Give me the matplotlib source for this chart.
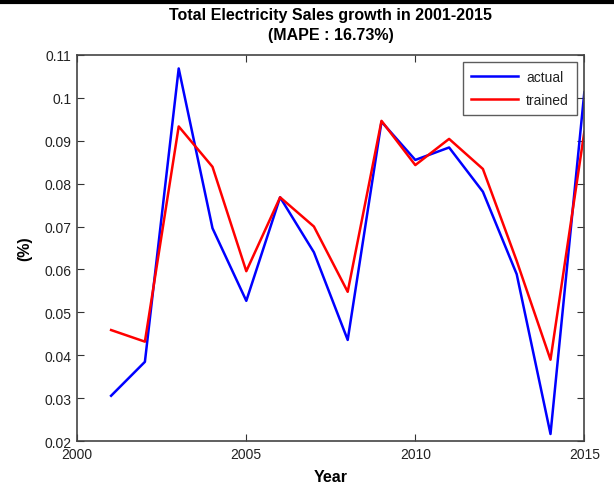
import matplotlib
matplotlib.use("Agg")
import matplotlib.pyplot as plt
from matplotlib.lines import Line2D

plt.rcParams['font.family'] = ['Liberation Sans', 'DejaVu Sans']

years = [2001, 2002, 2003, 2004, 2005, 2006, 2007, 2008, 2009, 2010, 2011, 2012, 2013, 2014, 2015]
actual = [0.0306, 0.0385, 0.1068, 0.0696, 0.0527, 0.0768, 0.0640, 0.0436, 0.0944, 0.0855, 0.0884, 0.0781, 0.0589, 0.0217, 0.1012]
trained = [0.0459, 0.0432, 0.0933, 0.0839, 0.0596, 0.0768, 0.0700, 0.0548, 0.0946, 0.0843, 0.0904, 0.0834, 0.0620, 0.0390, 0.0920]

xticks = [2000, 2005, 2010, 2015]
yticks = [0.02, 0.03, 0.04, 0.05, 0.06, 0.07, 0.08, 0.09, 0.1, 0.11]
ytick_labels = ['0.02', '0.03', '0.04', '0.05', '0.06', '0.07', '0.08', '0.09', '0.1', '0.11']

fig = plt.figure(figsize=(6.14, 4.89), dpi=100)
ax = fig.add_axes([77.3/614, 46.7/489, 507/614, 386.6/489])

ax.plot(years, actual, color='#0000ff', lw=1.8, label='actual')
ax.plot(years, trained, color='#ff0000', lw=1.8, label='trained')

ax.set_xlim(2000, 2015)
ax.set_ylim(0.02, 0.11)
ax.set_xticks(xticks)
ax.set_xticklabels([str(x) for x in xticks])
ax.set_yticks(yticks)
ax.set_yticklabels(ytick_labels)
ax.tick_params(direction='in', top=True, right=True, length=5, width=0.8,
               labelsize=10, colors='#333333', labelcolor='#222222', pad=4)
for s in ax.spines.values():
    s.set_color('#444444')
    s.set_linewidth(1.2)

ax.set_title('Total Electricity Sales growth in 2001-2015\n(MAPE : 16.73%)',
             fontsize=11.5, fontweight='bold', linespacing=1.45, pad=11)
ax.set_xlabel('Year', fontsize=11.5, fontweight='bold', labelpad=6)
ax.set_ylabel('(%)', fontsize=11.5, fontweight='bold', labelpad=9)

leg = ax.legend(loc='upper right', fontsize=10, frameon=True, fancybox=False,
                handlelength=3.4, handletextpad=0.6, borderpad=0.55,
                borderaxespad=0.55, labelspacing=0.65)
leg.get_frame().set_edgecolor('#333333')
leg.get_frame().set_linewidth(1.0)
for t in leg.get_texts():
    t.set_color('#222222')

fig.add_artist(Line2D([0, 1], [1 - 2.5/489, 1 - 2.5/489], transform=fig.transFigure,
                      color='black', lw=3))

fig.savefig('out.png', dpi=100)
